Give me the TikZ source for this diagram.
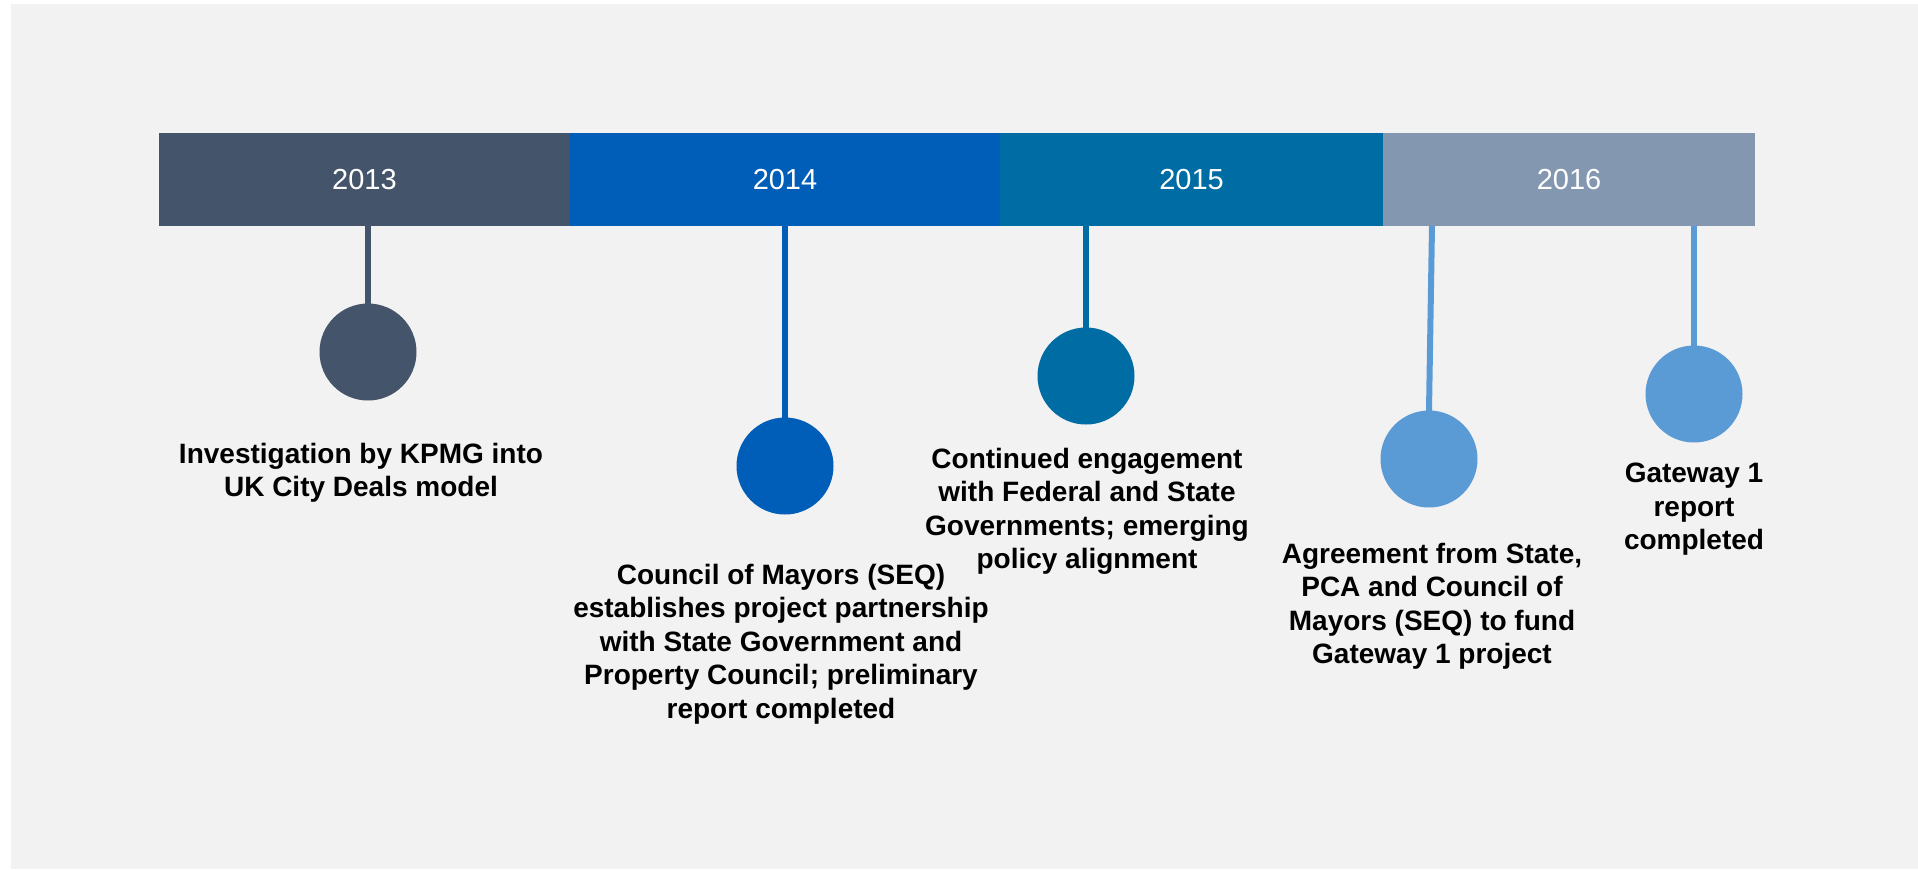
\documentclass[tikz,border=0pt]{standalone}
\usepackage{fontspec}
\setmainfont{Liberation Sans}
\usepackage{tikz}
\usetikzlibrary{positioning}
\usetikzlibrary{calc}

\definecolor{pagegray}{HTML}{F2F2F2}
\definecolor{c2013}{HTML}{44546A}
\definecolor{c2014}{HTML}{005EB8}
\definecolor{c2015}{HTML}{006CA4}
\definecolor{c2016}{HTML}{8497B0}
\definecolor{dotblue}{HTML}{5B9BD5}

\begin{document}
\begin{tikzpicture}[x=0.5pt, y=-0.5pt, node distance=0 cm, outer sep = 0pt]
          \newcommand{\barheight}{46.5pt}
          \newcommand{\dotsize}{48.5pt}
          \newcommand{\stemwidth}{3pt}

          \tikzstyle{yearbox}=[
            rectangle,
            draw=none,
            minimum height=\barheight,
            inner sep=0pt,
            anchor=west,
            text=white,
            font=\fontsize{14.5pt}{17pt}\selectfont
          ]
          \tikzstyle{dot}=[
            circle,
            draw=none,
            minimum size=\dotsize,
            inner sep=0pt
          ]
          \tikzstyle{stem} = [line width=\stemwidth, shorten >=-2pt]
          \tikzstyle{note}=[
            anchor=north,
            align=center,
            inner sep=0pt,
            font=\fontsize{14pt}{16.75pt}\selectfont\bfseries
          ]

          \useasboundingbox (0,0) rectangle (1918,869);
          \fill[white] (0,0) rectangle (1918,869);
          \fill[pagegray] (11,4) rectangle (1918,869);

          \coordinate (origo) at (159,179.5);

          % year bar
          \node[yearbox, fill=c2013, minimum width=205.5pt] (y2013) at (origo) {2013};
          \node[yearbox, fill=c2014, minimum width=215pt] (y2014) at (y2013.east) {2014};
          \node[yearbox, fill=c2015, minimum width=191.5pt] (y2015) at (y2014.east) {2015};
          \node[yearbox, fill=c2016, minimum width=186pt] (y2016) at (y2015.east) {2016};

          % milestones
          \node[dot, fill=c2013] (dot2013) at (368,352) {};
          \node[dot, fill=c2014] (dot2014) at (785,466) {};
          \node[dot, fill=c2015] (dot2015) at (1086,376) {};
          \node[dot, fill=dotblue] (dot2016a) at (1429,459) {};
          \node[dot, fill=dotblue] (dot2016b) at (1694,394) {};

          \draw[stem, c2013] (dot2013 |- y2013.south) -- (dot2013.north);
          \draw[stem, c2014] (dot2014 |- y2014.south) -- (dot2014.north);
          \draw[stem, c2015] (dot2015 |- y2015.south) -- (dot2015.north);
          \draw[stem, dotblue] ($(dot2016a |- y2016.south)+(3,0)$) -- (dot2016a.north);
          \draw[stem, dotblue] (dot2016b |- y2016.south) -- (dot2016b.north);

          % labels
          \node[note] (txt2013) at (361,443) {Investigation by KPMG into\\UK City Deals model};
          \node[note] (txt2014) at (781,564) {Council of Mayors (SEQ)\\establishes project partnership\\with State Government and\\Property Council; preliminary\\report completed};
          \node[note] (txt2015) at (1087,448) {Continued engagement\\with Federal and State\\Governments; emerging\\policy alignment};
          \node[note] (txt2016a) at (1432,543) {Agreement from State,\\PCA and Council of\\Mayors (SEQ) to fund\\Gateway 1 project};
          \node[note] (txt2016b) at (1694,463) {Gateway 1\\report\\completed};

        \end{tikzpicture}
\end{document}
